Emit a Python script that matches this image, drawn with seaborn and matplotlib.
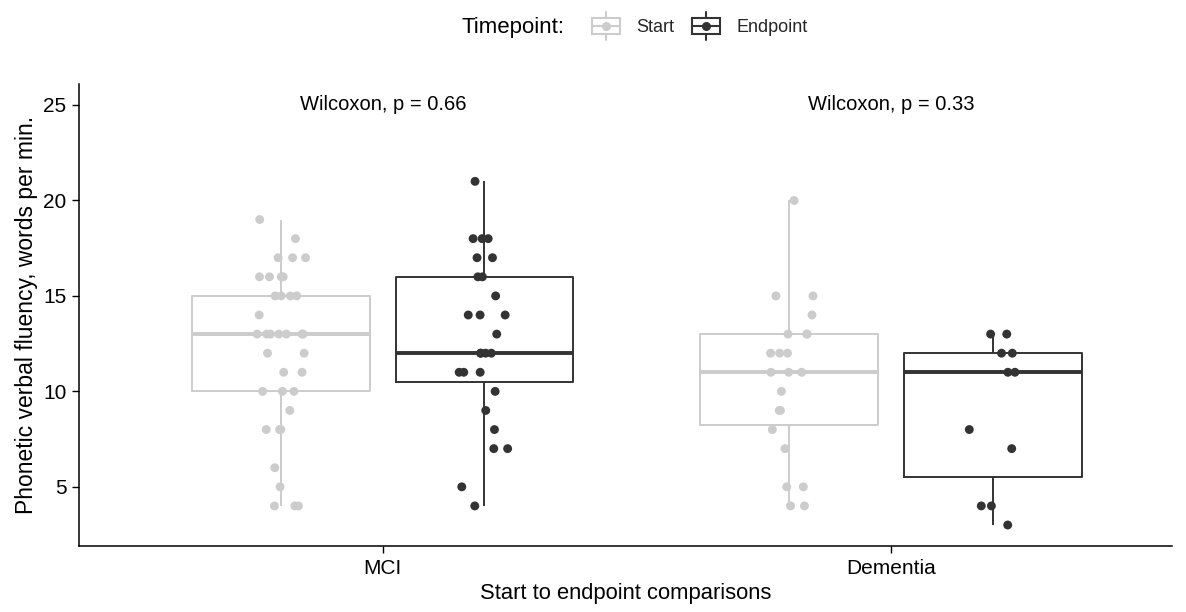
import numpy as np
import pandas as pd
import matplotlib
matplotlib.use("Agg")
import matplotlib.pyplot as plt
import seaborn as sns
from matplotlib.legend_handler import HandlerBase
from matplotlib.patches import Rectangle
from matplotlib.lines import Line2D

# Phonetic verbal fluency (words per minute) by group and timepoint
groups = ["MCI", "Dementia"]
timepoints = ["Start", "Endpoint"]

mci_start = [19, 18, 17, 17, 17, 16, 16, 16, 16, 15, 15, 15, 15, 14,
             13, 13, 13, 13, 13, 13, 13, 12, 12, 11, 11, 10, 10, 10,
             9, 8, 8, 8, 6, 5, 4, 4, 4]
mci_end = [21, 18, 18, 18, 17, 17, 16, 16, 15, 14, 14, 14, 13,
           12, 12, 12, 12, 11, 11, 11, 10, 9, 8, 7, 7, 5, 4]
dem_start = [20, 15, 15, 14, 13, 13, 13, 12, 12, 12, 11, 11, 11,
             10, 9, 9, 8, 7, 5, 5, 4, 4]
dem_end = [13, 13, 12, 12, 11, 11, 8, 7, 4, 4, 3]

p_labels = ["Wilcoxon, p = 0.66", "Wilcoxon, p = 0.33"]
label_y = 25

colors = {"Start": "#CCCCCC", "Endpoint": "#333333"}

rows = []
for grp, series in zip(groups, [(mci_start, mci_end), (dem_start, dem_end)]):
    for tp, vals in zip(timepoints, series):
        for v in vals:
            rows.append({"group": grp, "timepoint": tp, "value": v})
df = pd.DataFrame(rows)

sns.set_style("white")
plt.rcParams["font.family"] = ["Liberation Sans", "DejaVu Sans"]

fig = plt.figure(figsize=(11.86, 6.12), dpi=100)
ax = fig.add_axes([79 / 1186, 66 / 612, (1172 - 79) / 1186, (546 - 84) / 612])

sns.boxplot(data=df, x="group", y="value", hue="timepoint",
            order=groups, hue_order=timepoints, palette=colors,
            fill=False, width=0.8, gap=0.125, linewidth=1.4,
            showcaps=False, showfliers=False,
            medianprops={"linewidth": 2.8}, legend=False, ax=ax)

np.random.seed(7)
sns.stripplot(data=df, x="group", y="value", hue="timepoint",
              order=groups, hue_order=timepoints, palette=colors,
              dodge=True, jitter=0.1, size=6.4, linewidth=0,
              legend=False, ax=ax, zorder=3)

for i, lab in enumerate(p_labels):
    ax.text(i, label_y, lab, ha="center", va="center", fontsize=14.5,
            color="black")

ax.set_xlim(-0.598, 1.553)
ax.set_ylim(1.9, 26.1)
ax.set_yticks([5, 10, 15, 20, 25])
ax.set_ylabel("Phonetic verbal fluency, words per min.", fontsize=16.5,
              color="black", labelpad=4)
ax.set_xlabel("Start to endpoint comparisons", fontsize=15.8,
              color="black", labelpad=4)
ax.tick_params(axis="both", labelsize=15, colors="black", length=5,
               width=1.0, direction="out", left=True, bottom=True, pad=4)
for side in ["top", "right"]:
    ax.spines[side].set_visible(False)
for side in ["left", "bottom"]:
    ax.spines[side].set_color("black")
    ax.spines[side].set_linewidth(1.1)


class BoxKey(HandlerBase):
    """Legend key drawn as a small box with whisker, median and a point."""

    def create_artists(self, legend, orig_handle, xdescent, ydescent,
                       width, height, fontsize, trans):
        c = orig_handle.get_color()
        x0, y0 = -xdescent, -ydescent
        cx, cy = x0 + width / 2, y0 + height / 2
        whisk = Line2D([cx, cx], [y0 - 0.3 * height, y0 + 1.3 * height],
                       color=c, lw=1.5, transform=trans)
        box = Rectangle((x0 + 0.05 * width, y0 + 0.05 * height),
                        0.9 * width, 0.9 * height, facecolor="white",
                        edgecolor=c, lw=1.5, transform=trans)
        med = Line2D([x0 + 0.05 * width, x0 + 0.95 * width], [cy, cy],
                     color=c, lw=1.5, transform=trans)
        pt = Line2D([cx], [cy], marker="o", markersize=5.5, color=c,
                    linestyle="none", transform=trans)
        return [whisk, box, med, pt]


handles = [Line2D([], [], color=colors[t]) for t in timepoints]
fig.text(462 / 1186, 1 - 27 / 612, "Timepoint:", fontsize=16,
         ha="left", va="center", color="black")
fig.legend(handles, timepoints, handler_map={Line2D: BoxKey()},
           loc="center left", bbox_to_anchor=(590 / 1186, 1 - 27 / 612),
           ncol=2, frameon=False, fontsize=13, handlelength=1.75,
           handleheight=1.1, handletextpad=0.8, columnspacing=0.9,
           borderpad=0, borderaxespad=0)

fig.savefig("out.png", dpi=100, facecolor="white")
